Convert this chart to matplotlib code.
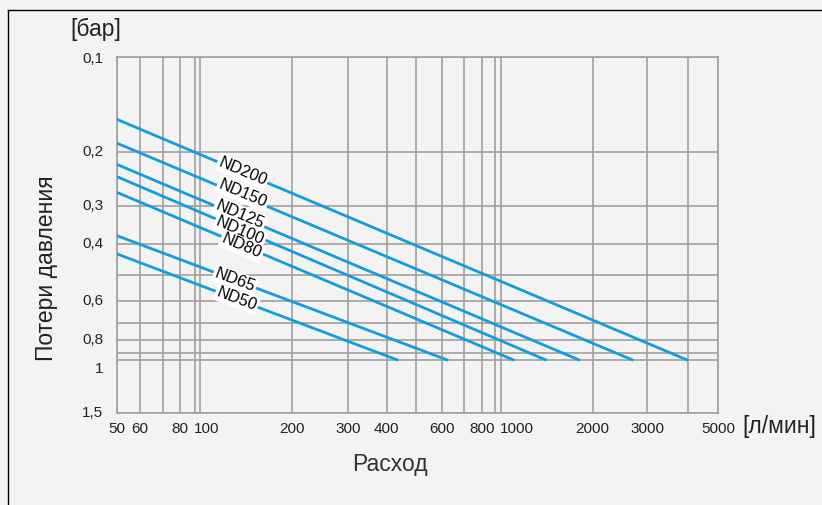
import numpy as np
import matplotlib
matplotlib.use("Agg")
import matplotlib.pyplot as plt
from matplotlib.ticker import FixedLocator, NullFormatter
from matplotlib.lines import Line2D

plt.rcParams['font.family'] = ['Liberation Sans', 'DejaVu Sans']

# ---------------- data ----------------
series_names = ["ND50", "ND65", "ND80", "ND100", "ND125", "ND150", "ND200"]
flow_start = [50, 50, 50, 50, 50, 50, 50]                       # л/мин
flow_end = [437, 628, 1108, 1414, 1817, 2704, 4000]             # л/мин
loss_start = [0.429, 0.375, 0.271, 0.241, 0.220, 0.188, 0.158]  # бар
loss_end = [1.0, 1.0, 1.0, 1.0, 1.0, 1.0, 1.0]                  # бар
label_flow = [132, 130, 137, 135, 135, 138, 138]                # where the ND tag sits

x_grid = [50, 60, 70, 80, 90, 100, 200, 300, 400, 500, 600, 700, 800, 900,
          1000, 2000, 3000, 4000, 5000]
x_tick_values = [50, 60, 80, 100, 200, 300, 400, 600, 800, 1000, 2000, 3000, 5000]
x_tick_labels = ["50", "60", "80", "100", "200", "300", "400", "600", "800",
                 "1000", "2000", "3000", "5000"]
y_grid = [0.1, 0.2, 0.3, 0.4, 0.5, 0.6, 0.7, 0.8, 0.9, 1.0, 1.5]
y_tick_values = [0.1, 0.2, 0.3, 0.4, 0.6, 0.8, 1.0, 1.5]
y_tick_labels = ["0,1", "0,2", "0,3", "0,4", "0,6", "0,8", "1", "1,5"]

# printed (hand-drawn) log paper calibration: fraction along the axis
x_calib = [0, 0.0383, 0.0760, 0.1043, 0.1297, 0.1385, 0.2905, 0.3847, 0.4485,
           0.4973, 0.5400, 0.5766, 0.6065, 0.6286, 0.6381, 0.7911, 0.8819,
           0.9496, 1.0]
y_calib = [0, 0.2666, 0.4190, 0.5265, 0.6127, 0.6843, 0.7474, 0.7951, 0.8330,
           0.8521, 1.0]

BG = "#f3f3f3"
GRID = "#a0a0a0"
BLUE = "#159cdb"
W, H = 822, 505
TAG_NUDGE = {"ND200": 1.0, "ND150": 2.5, "ND125": 1.8, "ND100": -2.0,
             "ND80": -1.2, "ND65": 0.0, "ND50": 0.5}   # px, small readability shifts


def make_scale(vals, calib):
    lv = np.log10(np.asarray(vals, float))
    c = np.asarray(calib, float)

    def fwd(v):
        v = np.asarray(v, float)
        with np.errstate(all="ignore"):
            lg = np.log10(np.where(v > 0, v, vals[0]))
        return np.interp(lg, lv, c)

    def inv(u):
        return 10 ** np.interp(np.asarray(u, float), c, lv)

    return fwd, inv


fig = plt.figure(figsize=(W / 100, H / 100), dpi=100, facecolor=BG)
ax = fig.add_axes([117 / W, (H - 413) / H, 601.3 / W, 356.3 / H], facecolor=BG)

ax.set_xscale("function", functions=make_scale(x_grid, x_calib))
ax.set_yscale("function", functions=make_scale(y_grid, y_calib))
ax.set_xlim(50, 5000)
ax.set_ylim(1.5, 0.1)

ax.xaxis.set_major_locator(FixedLocator(x_grid))
ax.yaxis.set_major_locator(FixedLocator(y_grid))
ax.xaxis.set_minor_locator(FixedLocator([]))
ax.yaxis.set_minor_locator(FixedLocator([]))
ax.xaxis.set_major_formatter(NullFormatter())
ax.yaxis.set_major_formatter(NullFormatter())
ax.tick_params(length=0)
ax.grid(True, color=GRID, lw=1.2)
ax.set_axisbelow(True)
for s in ax.spines.values():
    s.set_color(GRID)
    s.set_linewidth(1.2)

# lines
for i in range(len(series_names)):
    ax.plot([flow_start[i], flow_end[i]], [loss_start[i], loss_end[i]],
            color=BLUE, lw=2.0, solid_capstyle="butt", zorder=3)

# ND tags along the lines: white boxes first, then all texts above them
for i, name in enumerate(series_names):
    p0 = ax.transData.transform((flow_start[i], loss_start[i]))
    p1 = ax.transData.transform((flow_end[i], loss_end[i]))
    ang = np.degrees(np.arctan2(p1[1] - p0[1], p1[0] - p0[0]))
    lx = ax.transData.transform((label_flow[i], 1.0))[0]
    ly = p0[1] + (p1[1] - p0[1]) * (lx - p0[0]) / (p1[0] - p0[0])
    ly += TAG_NUDGE[name]
    xd, yd = ax.transData.inverted().transform((lx, ly))
    kw = dict(rotation=ang, rotation_mode="anchor", ha="center", va="center",
              fontsize=11.8)
    ax.text(xd, yd, name, color=(0, 0, 0, 0), zorder=4,
            bbox=dict(facecolor="white", edgecolor="none", pad=1.2), **kw)
    ax.text(xd, yd, name, color="black", zorder=5, **kw)

# tick labels
x_shift = {"100": 4.3, "1000": 11.5}
for v, lab in zip(x_tick_values, x_tick_labels):
    ax.annotate(lab, xy=(v, 0), xycoords=("data", "axes fraction"),
                xytext=(x_shift.get(lab, 0), -11.5), textcoords="offset points",
                ha="center", va="center", fontsize=11, color="#222222")
y_shift = {"1": -6.3, "0,1": -1.5}
for v, lab in zip(y_tick_values, y_tick_labels):
    ax.annotate(lab, xy=(0, v), xycoords=("axes fraction", "data"),
                xytext=(-10, y_shift.get(lab, 0)), textcoords="offset points",
                ha="right", va="center", fontsize=11, color="#222222")

# axis titles
fig.text(96 / W, 1 - 29 / H, "[бар]", ha="center", va="center",
         fontsize=16.5, color="#222222")
fig.text(742.7 / W, 1 - 426 / H, "[л/мин]", ha="left", va="center",
         fontsize=16.5, color="#222222")
fig.text(390 / W, 1 - 471 / H, "Расход", ha="center", va="baseline",
         fontsize=16.5, color="#333333")
fig.text(46.5 / W, 1 - 268 / H, "Потери давления", ha="center", va="center",
         rotation=90, fontsize=16.5, color="#222222")

# outer frame
fig.add_artist(Line2D([7.5 / W, 7.5 / W], [0, 1 - 9.5 / H],
                      transform=fig.transFigure, color="black", lw=1.0))
fig.add_artist(Line2D([7.5 / W, 1], [1 - 9.5 / H, 1 - 9.5 / H],
                      transform=fig.transFigure, color="black", lw=1.0))

fig.savefig("out.png", dpi=100, facecolor=BG)
